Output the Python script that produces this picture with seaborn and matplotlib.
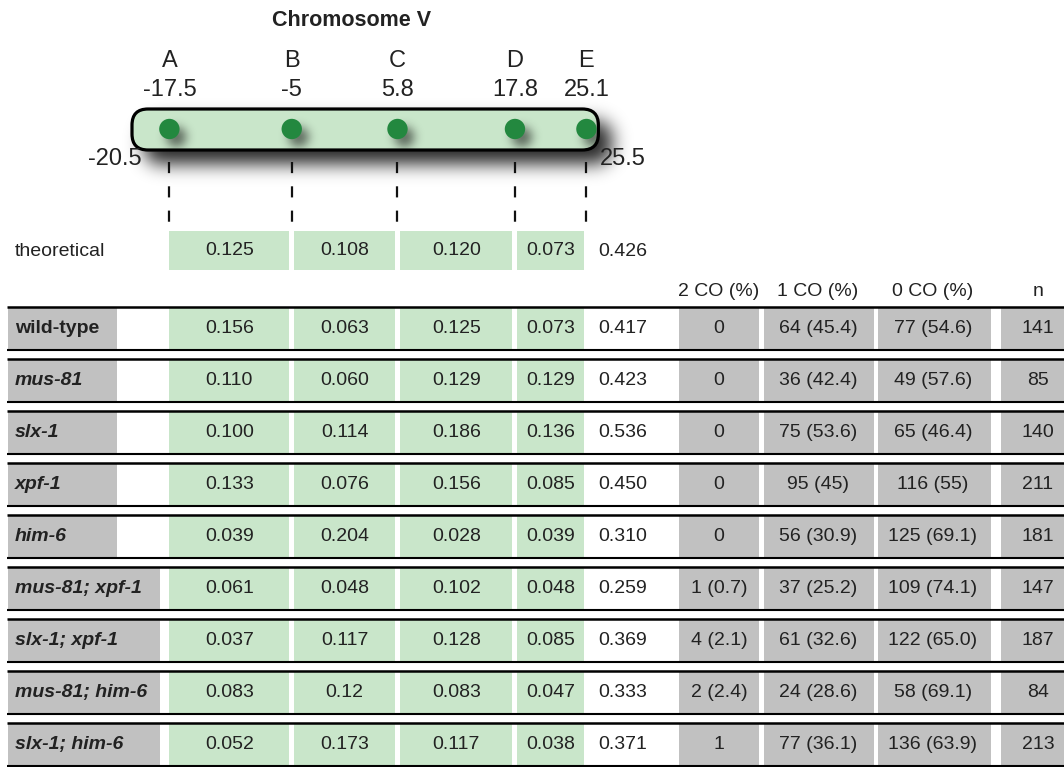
import numpy as np
import matplotlib
matplotlib.use("Agg")
import matplotlib.pyplot as plt
from matplotlib.patches import Rectangle, FancyBboxPatch
import seaborn as sns

# -------------------
# DATA
# -------------------
markers = ['A', 'B', 'C', 'D', 'E']
marker_pos = [-17.5, -5, 5.8, 17.8, 25.1]
chrom_ends = [-20.5, 25.5]

genotypes = ['wild-type', 'mus-81', 'slx-1', 'xpf-1', 'him-6',
             'mus-81; xpf-1', 'slx-1; xpf-1', 'mus-81; him-6', 'slx-1; him-6']

theoretical = ['0.125', '0.108', '0.120', '0.073']
theoretical_total = '0.426'

int_ab = ['0.156', '0.110', '0.100', '0.133', '0.039', '0.061', '0.037', '0.083', '0.052']
int_bc = ['0.063', '0.060', '0.114', '0.076', '0.204', '0.048', '0.117', '0.12', '0.173']
int_cd = ['0.125', '0.129', '0.186', '0.156', '0.028', '0.102', '0.128', '0.083', '0.117']
int_de = ['0.073', '0.129', '0.136', '0.085', '0.039', '0.048', '0.085', '0.047', '0.038']
int_total = ['0.417', '0.423', '0.536', '0.450', '0.310', '0.259', '0.369', '0.333', '0.371']

co2 = ['0', '0', '0', '0', '0', '1 (0.7)', '4 (2.1)', '2 (2.4)', '1']
co1 = ['64 (45.4)', '36 (42.4)', '75 (53.6)', '95 (45)', '56 (30.9)',
       '37 (25.2)', '61 (32.6)', '24 (28.6)', '77 (36.1)']
co0 = ['77 (54.6)', '49 (57.6)', '65 (46.4)', '116 (55)', '125 (69.1)',
       '109 (74.1)', '122 (65.0)', '58 (69.1)', '136 (63.9)']
n_counts = [141, 85, 140, 211, 181, 147, 187, 84, 213]

count_headers = ['2 CO (%)', '1 CO (%)', '0 CO (%)', 'n']

# -------------------
# STYLE
# -------------------
sns.set_style('white')
plt.rcParams['font.family'] = ['Liberation Sans', 'DejaVu Sans']
plt.rcParams['lines.scale_dashes'] = False

GREEN = '#c9e6ca'
GRAY = '#c1c1c1'
DOT = '#23883f'
TXT = '#222222'
FS = 14

fig = plt.figure(figsize=(10.64, 7.67), dpi=100)
ax = fig.add_axes([0, 0, 1, 1])
ax.set_xlim(0, 1064)
ax.set_ylim(767, 0)
ax.axis('off')

# map-unit axis on top of the pixel layout axis
ax_map = ax.twiny()
k = 9.79
ax_map.set_xlim(5.24 - 392 / k, 5.24 + (1064 - 392) / k)
ax_map.axis('off')


def to_px(x):
    p = ax_map.transData.transform((x, 0))
    return ax.transData.inverted().transform(p)[0]


mpx = [to_px(m) for m in marker_pos]
left_px, right_px = to_px(chrom_ends[0]), to_px(chrom_ends[1])

# -------------------
# CHROMOSOME
# -------------------
ax.text(352, 20, 'Chromosome V', ha='center', va='center',
        fontsize=15.5, fontweight='bold', color=TXT)

pill_x0, pill_x1 = left_px - 8, right_px + 8
pill_y0, pill_y1 = 109, 150
rad = 16


def pill_mask(X, Y, x0, x1, y0, y1, r):
    dx = np.maximum(np.maximum(x0 + r - X, 0), X - (x1 - r))
    dy = np.maximum(np.maximum(y0 + r - Y, 0), Y - (y1 - r))
    return (dx ** 2 + dy ** 2 <= r ** 2).astype(float)


def blur(a, sigma):
    half = int(3 * sigma)
    t = np.arange(-half, half + 1)
    g = np.exp(-t ** 2 / (2 * sigma ** 2))
    g /= g.sum()
    a = np.apply_along_axis(lambda v: np.convolve(v, g, mode='same'), 0, a)
    a = np.apply_along_axis(lambda v: np.convolve(v, g, mode='same'), 1, a)
    return a


gx0, gx1, gy0, gy1 = 90, 680, 70, 230
X, Y = np.meshgrid(np.arange(gx0, gx1) + 0.5, np.arange(gy0, gy1) + 0.5)

sh = blur(pill_mask(X, Y, pill_x0 + 12, pill_x1 + 14, pill_y0 + 12, pill_y1 + 14, rad), 9)
img = np.zeros(sh.shape + (4,))
img[..., 3] = np.clip(sh * 0.85, 0, 1)
ax.imshow(img, extent=(gx0, gx1, gy1, gy0), aspect='auto', zorder=1, interpolation='bilinear')

ax.add_patch(FancyBboxPatch((pill_x0, pill_y0), pill_x1 - pill_x0, pill_y1 - pill_y0,
                            boxstyle=f'round,pad=0,rounding_size={rad}',
                            facecolor=GREEN, edgecolor='none', zorder=2))

dot_y = 129
dsh = np.zeros_like(X)
for xp in mpx:
    dsh += ((X - xp - 7) ** 2 + (Y - dot_y - 8) ** 2 <= 10 ** 2)
dsh = blur(dsh, 5) * pill_mask(X, Y, pill_x0, pill_x1, pill_y0, pill_y1, rad)
img2 = np.zeros(dsh.shape + (4,))
img2[..., 3] = np.clip(dsh * 0.55, 0, 1)
ax.imshow(img2, extent=(gx0, gx1, gy1, gy0), aspect='auto', zorder=3, interpolation='bilinear')

ax.add_patch(FancyBboxPatch((pill_x0, pill_y0), pill_x1 - pill_x0, pill_y1 - pill_y0,
                            boxstyle=f'round,pad=0,rounding_size={rad}',
                            facecolor='none', edgecolor='black', lw=2.3, zorder=5))

ax.set_xlim(0, 1064)
ax.set_ylim(767, 0)

sns.scatterplot(x=marker_pos, y=[dot_y] * len(marker_pos), ax=ax_map, s=215,
                color=DOT, edgecolor='none', legend=False, zorder=6)
ax_map.set_ylim(767, 0)
ax_map.axis('off')

for m, p, xp in zip(markers, marker_pos, mpx):
    ax.text(xp, 61, m, ha='center', va='center', fontsize=17, color=TXT)
    ax.text(xp, 90, f'{p:g}', ha='center', va='center', fontsize=17, color=TXT)
    ax.plot([xp, xp], [162, 222], color='#111111', lw=1.6, dashes=[8, 9.5], zorder=4)

ax.text(pill_x0 + 10, 159, f'{chrom_ends[0]:g}', ha='right', va='center', fontsize=17, color=TXT, zorder=7)
ax.text(pill_x1 + 2, 159, f'{chrom_ends[1]:g}', ha='left', va='center', fontsize=17, color=TXT, zorder=7)

# -------------------
# TABLE
# -------------------
cell_gap = 2.5
total_x = 598
count_cols = [(679, 759), (764, 874), (878, 991), (1001, 1075)]
count_text_x = [719, 818, 933, 1038]


def interval_cells(y0, y1, vals):
    for i, v in enumerate(vals):
        a = mpx[i] + (cell_gap if i > 0 else 0)
        b = mpx[i + 1] - cell_gap
        ax.add_patch(Rectangle((a, y0), b - a, y1 - y0, facecolor=GREEN, edgecolor='none', zorder=1))
        ax.text((a + b) / 2, (y0 + y1) / 2, v, ha='center', va='center', fontsize=FS, color=TXT, zorder=3)


# theoretical row
interval_cells(231, 270, theoretical)
ax.text(15, 251, 'theoretical', ha='left', va='center', fontsize=FS, color=TXT)
ax.text(total_x, 251, theoretical_total, ha='left', va='center', fontsize=FS, color=TXT)

# headers
for h, xc in zip(count_headers, count_text_x):
    ax.text(xc, 291, h, ha='center', va='center', fontsize=FS, color=TXT)

row_top0, row_pitch, row_h = 307, 52, 42.5
rows = zip(genotypes, int_ab, int_bc, int_cd, int_de, int_total, co2, co1, co0, n_counts)
for r, (g, ab, bc, cd, de, tot, c2, c1, c0, nn) in enumerate(rows):
    y0 = row_top0 + r * row_pitch
    y1 = y0 + row_h
    yc = (y0 + y1) / 2
    label_w = 152 if ';' in g else 109
    ax.add_patch(Rectangle((8, y0), label_w, y1 - y0, facecolor=GRAY, edgecolor='none', zorder=1))
    ax.text(15, yc, g, ha='left', va='center', fontsize=FS, fontweight='bold',
            fontstyle='normal' if g == 'wild-type' else 'italic', color=TXT, zorder=3)
    interval_cells(y0, y1, [ab, bc, cd, de])
    ax.text(total_x, yc, tot, ha='left', va='center', fontsize=FS, color=TXT, zorder=3)
    for (a, b), xc, v in zip(count_cols, count_text_x, [c2, c1, c0, nn]):
        ax.add_patch(Rectangle((a, y0), b - a, y1 - y0, facecolor=GRAY, edgecolor='none', zorder=1))
        ax.text(xc, yc, str(v), ha='center', va='center', fontsize=FS, color=TXT, zorder=3)
    ax.plot([7, 1064], [y0, y0], color='black', lw=1.8, solid_capstyle='butt', zorder=4)
    ax.plot([7, 1064], [y1, y1], color='black', lw=1.5, solid_capstyle='butt', zorder=4)

fig.savefig('out.png', dpi=100)
